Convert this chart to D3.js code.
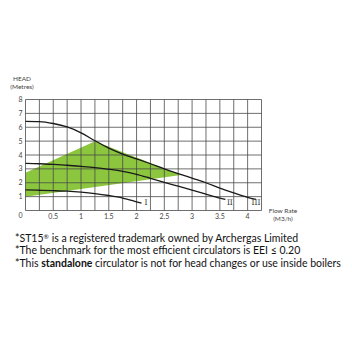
<!DOCTYPE html>
<html><head><meta charset="utf-8">
<script src="https://cdn.jsdelivr.net/npm/d3@7"></script>
<style>
html,body{margin:0;padding:0;background:#fff;}
svg{display:block;font-family:Lato,"Open Sans",sans-serif;}
</style></head>
<body>
<svg id="c" width="352" height="352"></svg>
<script>
// data
const curveI   = [[0,1.48],[0.25,1.46],[0.5,1.43],[0.75,1.39],[1.0,1.32],[1.25,1.22],[1.5,1.08],[1.75,0.9],[2.0,0.63],[2.09,0.53]];
const curveII  = [[0,3.4],[0.25,3.37],[0.5,3.32],[0.75,3.26],[1.0,3.18],[1.25,3.09],[1.5,2.97],[1.75,2.82],[2.0,2.6],[2.25,2.32],[2.5,2.03],[2.75,1.75],[3.0,1.47],[3.25,1.18],[3.5,0.9],[3.6,0.8]];
const curveIII = [[0,6.43],[0.25,6.41],[0.5,6.27],[0.75,6.02],[1.0,5.6],[1.25,5.03],[1.5,4.5],[1.75,4.07],[2.0,3.72],[2.25,3.37],[2.5,3.0],[2.75,2.66],[3.0,2.33],[3.25,2.0],[3.5,1.62],[3.75,1.27],[4.0,0.95],[4.15,0.8]];
const curveLabels = ["I","II","III"];
const curveLabelX = [2.17, 3.68, 4.15];
const curveLabelY = 0.4;
const greenArea = [[0,2.72],[1.25,5.0],[2.8,2.56],[0,1.0]];
const xTicks = [0.5,1,1.5,2,2.5,3,3.5,4];
const yTicks = [1,2,3,4,5,6,7,8];
const xGrid = d3.range(0,4.26,0.25);
const yGrid = d3.range(0,9,1);
const notes = [
  [{t:"*ST15",b:false},{t:"®",b:false,sup:true},{t:" is a registered trademark owned by Archergas Limited",b:false}],
  [{t:"*The benchmark for the most efficient circulators is EEI ≤ 0.20",b:false}],
  [{t:"*This ",b:false},{t:"standalone",b:true},{t:" circulator is not for head changes or use inside boilers",b:false}]
];

const svg = d3.select("#c");
const x = d3.scaleLinear().domain([0,4.25]).range([25.5,261.5]);
const y = d3.scaleLinear().domain([0,8]).range([210.5,99.5]);

// green area
svg.append("path")
  .attr("d", d3.line().x(d=>x(d[0])).y(d=>y(d[1]))(greenArea)+"Z")
  .attr("fill","#8cc63e");

// grid
const g = svg.append("g").attr("stroke","#4a4a4a").attr("stroke-width",0.8);
g.selectAll(".vx").data(xGrid).join("line")
  .attr("x1",d=>x(d)).attr("x2",d=>x(d)).attr("y1",y(0)).attr("y2",y(8));
g.selectAll(".hy").data(yGrid).join("line")
  .attr("x1",x(0)).attr("x2",x(4.25)).attr("y1",d=>y(d)).attr("y2",d=>y(d));

// curves
const line = d3.line().x(d=>x(d[0])).y(d=>y(d[1])).curve(d3.curveMonotoneX);
[curveI,curveII,curveIII].forEach(c=>{
  svg.append("path").attr("d",line(c)).attr("fill","none")
    .attr("stroke","#1a1a1a").attr("stroke-width",1.3);
});
// curve labels
curveLabels.forEach((lab,i)=>{
  svg.append("text").attr("x",x(curveLabelX[i])).attr("y",y(curveLabelY))
    .attr("font-size",8).attr("fill","#333").attr("text-anchor","middle")
    .attr("font-family","'DejaVu Serif',serif").attr("font-size",7.5)
    .text(lab);
});

// tick labels
const tl = svg.append("g").attr("font-size",7).attr("fill","#444");
tl.selectAll(".xt").data(xTicks).join("text")
  .attr("x",d=>x(d)).attr("y",y(0)+8.3).attr("text-anchor","middle").text(d=>d);
tl.append("text").attr("x",20.5).attr("y",y(0)+7).attr("text-anchor","middle").text("0");
tl.selectAll(".yt").data(yTicks).join("text")
  .attr("x",20.5).attr("y",d=>y(d)+2.5).attr("text-anchor","middle").text(d=>d);

// axis titles
const at = svg.append("g").attr("font-size",6.5).attr("fill","#444").attr("text-anchor","middle");
at.append("text").attr("x",22).attr("y",81).text("HEAD");
at.append("text").attr("x",22).attr("y",88.5).text("(Metres)");
at.append("text").attr("x",283).attr("y",213).text("Flow Rate");
at.append("text").attr("x",283).attr("y",221).text("(M3/h)");

// notes
const nt = svg.append("g").attr("font-size",10.5).attr("fill","#111");
notes.forEach((parts,i)=>{
  const t = nt.append("text").attr("x",15).attr("y",241.8+i*12.5);
  parts.forEach(p=>{
    const s = t.append("tspan").attr("font-weight",p.b?"bold":"normal").text(p.t);
    if(p.sup) s.attr("font-size",6.5).attr("dy",-3);
    else if(i===0 && p.t.startsWith(" ")) s.attr("dy",3);
  });
});
</script>
</body></html>
